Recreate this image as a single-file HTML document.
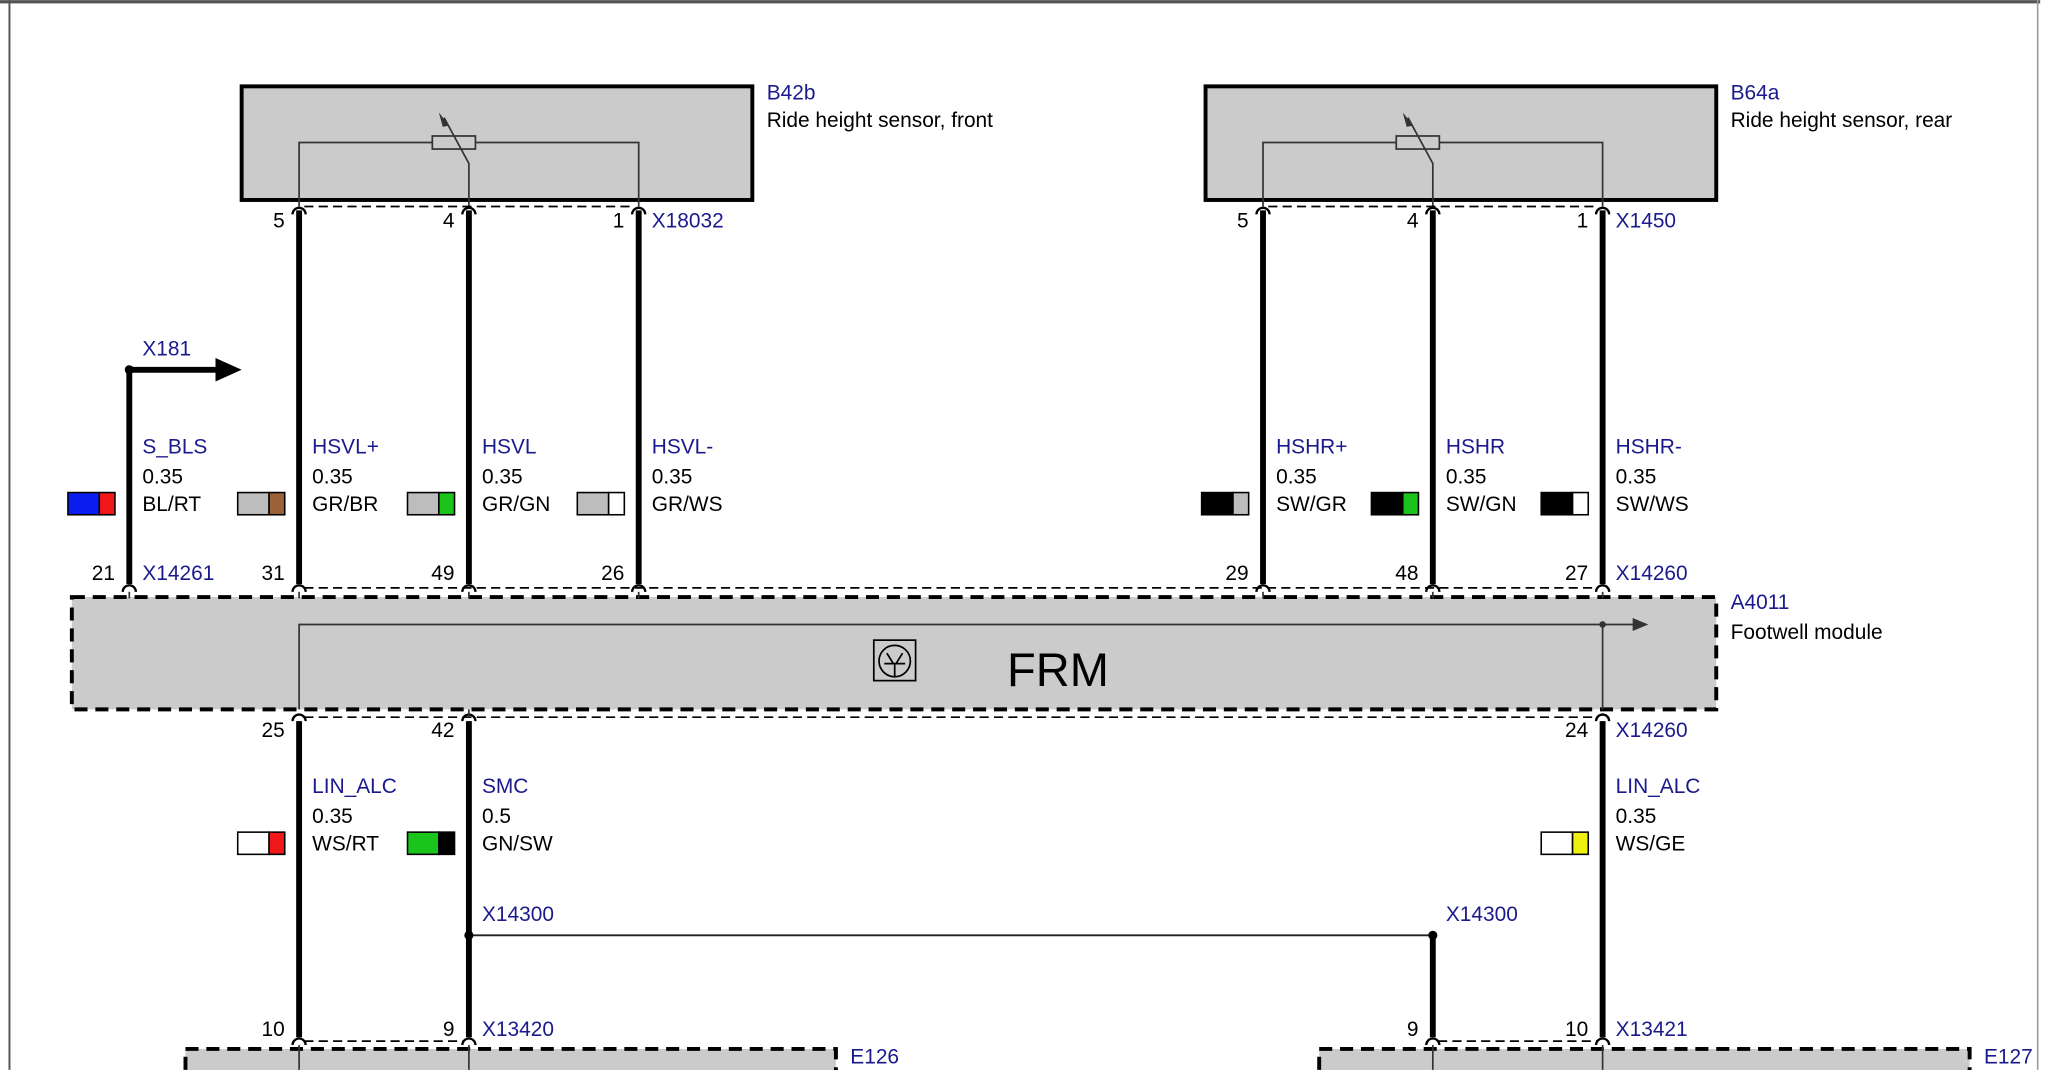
<!DOCTYPE html>
<html><head><meta charset="utf-8"><style>
html,body{margin:0;padding:0;background:#fff;}
svg{display:block;}
text{font-family:"Liberation Sans",sans-serif;font-size:16px;}
.b{fill:#1a1a8c;}
.k{fill:#000;}
.r{text-anchor:end;}
</style></head><body>
<svg width="2048" height="1070" viewBox="0 0 1568 819" xmlns="http://www.w3.org/2000/svg">
<rect x="0" y="0" width="1568" height="819" fill="#fff"/>
<rect x="0" y="0" width="1562" height="2.5" fill="#555"/>
<rect x="6.5" y="0" width="1.5" height="819" fill="#555"/>
<rect x="1559.5" y="0" width="1.2" height="819" fill="#999"/>

<!-- Sensor boxes -->
<rect x="185" y="66" width="391" height="87" fill="#cbcbcb" stroke="#000" stroke-width="3"/>
<rect x="923" y="66" width="391" height="87" fill="#cbcbcb" stroke="#000" stroke-width="3"/>
<g fill="none" stroke="#333" stroke-width="1.3">
<path d="M229,158 V109 H489 V158"/>
<rect x="331" y="104" width="33" height="10" fill="#cbcbcb"/>
<path d="M359,158 V125 L340,90"/>
<path d="M967,158 V109 H1227 V158"/>
<rect x="1069" y="104" width="33" height="10" fill="#cbcbcb"/>
<path d="M1097,158 V125 L1078,90"/>
</g>
<path d="M336,86 L344,96 L339,97 Z" fill="#333"/>
<path d="M1074,86 L1082,96 L1077,97 Z" fill="#333"/>
<text x="587" y="76" class="b">B42b</text>
<text x="587" y="97" class="k">Ride height sensor, front</text>
<text x="1325" y="76" class="b">B64a</text>
<text x="1325" y="97" class="k">Ride height sensor, rear</text>

<!-- dashed connector lines -->
<g stroke="#000" stroke-width="1.3" stroke-dasharray="7,4" fill="none">
<line x1="233" y1="158" x2="485" y2="158"/>
<line x1="971" y1="158" x2="1223" y2="158"/>
<line x1="233" y1="450" x2="1223" y2="450"/>
<line x1="233" y1="549" x2="1223" y2="549"/>
<line x1="233" y1="797" x2="355" y2="797"/>
<line x1="1101" y1="797" x2="1223" y2="797"/>
</g>

<!-- thick wires -->
<g stroke="#000" stroke-width="4.5" fill="none">
<line x1="229" y1="161" x2="229" y2="447"/>
<line x1="359" y1="161" x2="359" y2="447"/>
<line x1="489" y1="161" x2="489" y2="447"/>
<line x1="967" y1="161" x2="967" y2="447"/>
<line x1="1097" y1="161" x2="1097" y2="447"/>
<line x1="1227" y1="161" x2="1227" y2="447"/>
<line x1="99" y1="283" x2="99" y2="447"/>
<line x1="99" y1="283" x2="168" y2="283"/>
<line x1="229" y1="552" x2="229" y2="794"/>
<line x1="359" y1="552" x2="359" y2="794"/>
<line x1="1227" y1="552" x2="1227" y2="794"/>
<line x1="1097" y1="716" x2="1097" y2="794"/>
</g>
<path d="M165,274 L185,283 L165,292 Z" fill="#000"/>
<circle cx="99" cy="283" r="3.5" fill="#000"/>
<line x1="359" y1="716" x2="1097" y2="716" stroke="#222" stroke-width="1.5"/>
<circle cx="359" cy="716" r="3.5" fill="#000"/>
<circle cx="1097" cy="716" r="3.5" fill="#000"/>

<!-- pin caps -->
<g stroke="#000" stroke-width="1.8" fill="none">
<path d="M224,164 A5,5 0 0 1 234,164"/><path d="M354,164 A5,5 0 0 1 364,164"/><path d="M484,164 A5,5 0 0 1 494,164"/>
<path d="M962,164 A5,5 0 0 1 972,164"/><path d="M1092,164 A5,5 0 0 1 1102,164"/><path d="M1222,164 A5,5 0 0 1 1232,164"/>
<path d="M94,453 A5,5 0 0 1 104,453"/><path d="M224,453 A5,5 0 0 1 234,453"/><path d="M354,453 A5,5 0 0 1 364,453"/><path d="M484,453 A5,5 0 0 1 494,453"/>
<path d="M962,453 A5,5 0 0 1 972,453"/><path d="M1092,453 A5,5 0 0 1 1102,453"/><path d="M1222,453 A5,5 0 0 1 1232,453"/>
<path d="M224,552 A5,5 0 0 1 234,552"/><path d="M354,552 A5,5 0 0 1 364,552"/><path d="M1222,552 A5,5 0 0 1 1232,552"/>
<path d="M224,800 A5,5 0 0 1 234,800"/><path d="M354,800 A5,5 0 0 1 364,800"/><path d="M1092,800 A5,5 0 0 1 1102,800"/><path d="M1222,800 A5,5 0 0 1 1232,800"/>
</g>

<!-- FRM -->
<rect x="55" y="457" width="1259" height="86" fill="#cbcbcb" stroke="#000" stroke-width="3" stroke-dasharray="10,6"/>
<g stroke="#333" stroke-width="1.3" fill="none">
<path d="M229,543 V478 H1252"/>
<line x1="1227" y1="478" x2="1227" y2="543"/>
<line x1="99" y1="453" x2="99" y2="458"/><line x1="229" y1="453" x2="229" y2="458"/><line x1="359" y1="453" x2="359" y2="458"/><line x1="489" y1="453" x2="489" y2="458"/>
<line x1="967" y1="453" x2="967" y2="458"/><line x1="1097" y1="453" x2="1097" y2="458"/><line x1="1227" y1="453" x2="1227" y2="458"/>
<line x1="359" y1="543" x2="359" y2="549"/>
</g>
<path d="M1250,473 L1262,478 L1250,483 Z" fill="#333"/>
<circle cx="1227" cy="478" r="2.5" fill="#333"/>
<rect x="669" y="490" width="32" height="31" fill="none" stroke="#000" stroke-width="1.3"/>
<circle cx="685" cy="506" r="12" fill="none" stroke="#000" stroke-width="1.3"/>
<path d="M677,508 H693 M685,508 V518 M679,500 L684,508 M691,500 L686,508" stroke="#000" stroke-width="1.3" fill="none"/>
<text x="810" y="525" style="font-size:36px;text-anchor:middle" class="k">FRM</text>
<text x="1325" y="466" class="b">A4011</text>
<text x="1325" y="489" class="k">Footwell module</text>

<!-- bottom modules -->
<rect x="142" y="803" width="498" height="30" fill="#cbcbcb" stroke="#000" stroke-width="3" stroke-dasharray="10,6"/>
<rect x="1010" y="803" width="498" height="30" fill="#cbcbcb" stroke="#000" stroke-width="3" stroke-dasharray="10,6"/>
<g stroke="#333" stroke-width="1.3"><line x1="229" y1="800" x2="229" y2="819"/><line x1="359" y1="800" x2="359" y2="819"/><line x1="1097" y1="800" x2="1097" y2="819"/><line x1="1227" y1="800" x2="1227" y2="819"/></g>
<text x="651" y="814" class="b">E126</text>
<text x="1519" y="814" class="b">E127</text>

<!-- pin numbers -->
<g class="k">
<text x="218" y="174" class="r">5</text><text x="348" y="174" class="r">4</text><text x="478" y="174" class="r">1</text>
<text x="956" y="174" class="r">5</text><text x="1086" y="174" class="r">4</text><text x="1216" y="174" class="r">1</text>
<text x="88" y="444" class="r">21</text><text x="218" y="444" class="r">31</text><text x="348" y="444" class="r">49</text><text x="478" y="444" class="r">26</text>
<text x="956" y="444" class="r">29</text><text x="1086" y="444" class="r">48</text><text x="1216" y="444" class="r">27</text>
<text x="218" y="564" class="r">25</text><text x="348" y="564" class="r">42</text><text x="1216" y="564" class="r">24</text>
<text x="218" y="793" class="r">10</text><text x="348" y="793" class="r">9</text><text x="1086" y="793" class="r">9</text><text x="1216" y="793" class="r">10</text>
</g>
<g class="b">
<text x="499" y="174">X18032</text><text x="1237" y="174">X1450</text>
<text x="109" y="272">X181</text>
<text x="109" y="444">X14261</text><text x="1237" y="444">X14260</text>
<text x="1237" y="564">X14260</text>
<text x="369" y="705">X14300</text><text x="1107" y="705">X14300</text>
<text x="369" y="793">X13420</text><text x="1237" y="793">X13421</text>
</g>

<!-- wire labels -->
<g>
<text x="109" y="347" class="b">S_BLS</text><text x="109" y="370">0.35</text><text x="109" y="391">BL/RT</text>
<text x="239" y="347" class="b">HSVL+</text><text x="239" y="370">0.35</text><text x="239" y="391">GR/BR</text>
<text x="369" y="347" class="b">HSVL</text><text x="369" y="370">0.35</text><text x="369" y="391">GR/GN</text>
<text x="499" y="347" class="b">HSVL-</text><text x="499" y="370">0.35</text><text x="499" y="391">GR/WS</text>
<text x="977" y="347" class="b">HSHR+</text><text x="977" y="370">0.35</text><text x="977" y="391">SW/GR</text>
<text x="1107" y="347" class="b">HSHR</text><text x="1107" y="370">0.35</text><text x="1107" y="391">SW/GN</text>
<text x="1237" y="347" class="b">HSHR-</text><text x="1237" y="370">0.35</text><text x="1237" y="391">SW/WS</text>
<text x="239" y="607" class="b">LIN_ALC</text><text x="239" y="630">0.35</text><text x="239" y="651">WS/RT</text>
<text x="369" y="607" class="b">SMC</text><text x="369" y="630">0.5</text><text x="369" y="651">GN/SW</text>
<text x="1237" y="607" class="b">LIN_ALC</text><text x="1237" y="630">0.35</text><text x="1237" y="651">WS/GE</text>
</g>

<!-- swatches -->
<g stroke="#000" stroke-width="1.2">
<rect x="52" y="377" width="24" height="17" fill="#0b1cf0"/><rect x="76" y="377" width="12" height="17" fill="#f01818"/>
<rect x="182" y="377" width="24" height="17" fill="#bdbdbd"/><rect x="206" y="377" width="12" height="17" fill="#9a6236"/>
<rect x="312" y="377" width="24" height="17" fill="#bdbdbd"/><rect x="336" y="377" width="12" height="17" fill="#1ac41a"/>
<rect x="442" y="377" width="24" height="17" fill="#bdbdbd"/><rect x="466" y="377" width="12" height="17" fill="#fff"/>
<rect x="920" y="377" width="24" height="17" fill="#000"/><rect x="944" y="377" width="12" height="17" fill="#bdbdbd"/>
<rect x="1050" y="377" width="24" height="17" fill="#000"/><rect x="1074" y="377" width="12" height="17" fill="#1ac41a"/>
<rect x="1180" y="377" width="24" height="17" fill="#000"/><rect x="1204" y="377" width="12" height="17" fill="#fff"/>
<rect x="182" y="637" width="24" height="17" fill="#fff"/><rect x="206" y="637" width="12" height="17" fill="#f01818"/>
<rect x="312" y="637" width="24" height="17" fill="#1ac41a"/><rect x="336" y="637" width="12" height="17" fill="#000"/>
<rect x="1180" y="637" width="24" height="17" fill="#fff"/><rect x="1204" y="637" width="12" height="17" fill="#f0f010"/>
</g>
</svg>
</body></html>
